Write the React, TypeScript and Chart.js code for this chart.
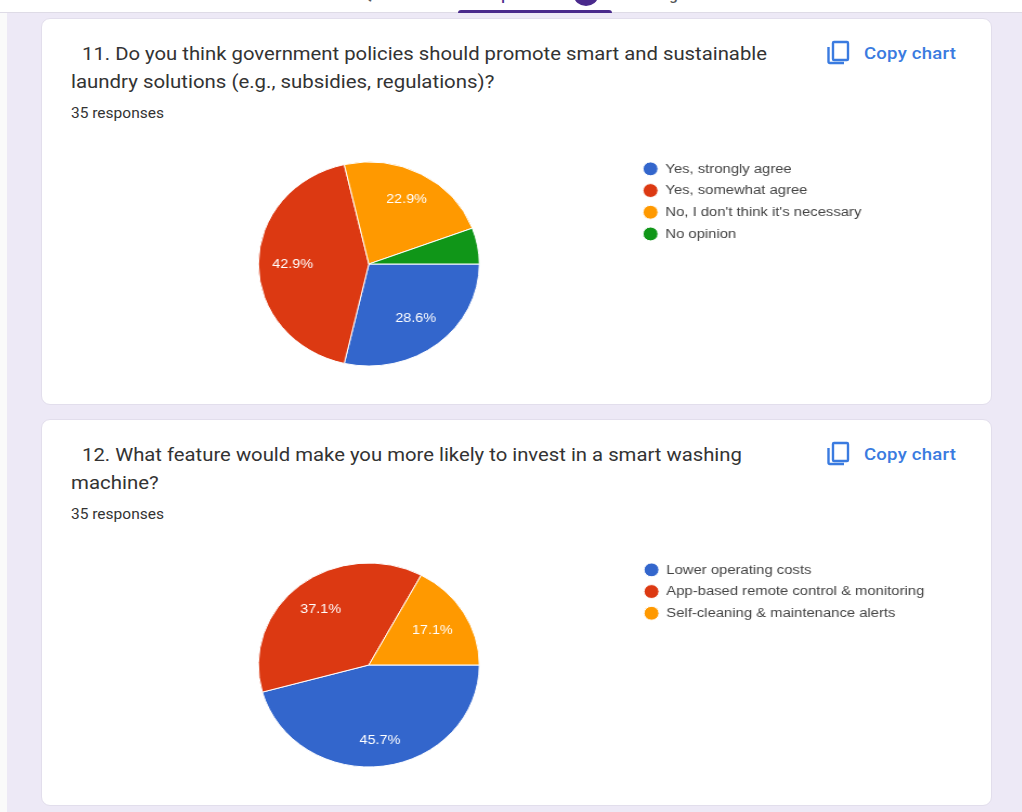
import React, { useEffect, useRef } from "react";
import { Chart, registerables } from "chart.js";

Chart.register(...registerables);

const policyAnswers = ["Yes, strongly agree", "Yes, somewhat agree", "No, I don't think it's necessary", "No opinion"];
const policyCounts = [10, 15, 8, 2];
const featureAnswers = ["Lower operating costs", "App-based remote control & monitoring", "Self-cleaning & maintenance alerts"];
const featureCounts = [16, 13, 6];
const sliceColors = ["#3366cc", "#dc3912", "#ff9900", "#109618"];
// How far out along each slice its percentage sits, as a share of the radius.
const policyLabelReach = [0.68, 0.69, 0.72, 0];
const featureLabelReach = [0.75, 0.7, 0.67];
const FONT = "'Liberation Sans', Arial, sans-serif";
const STRETCH = 1.083;

// Writes each slice's share inside the slice, skipping the very thin ones.
const percentLabels = {
  id: "percentLabels",
  afterDatasetsDraw(chart: any, _args: any, opts: any) {
    const { ctx } = chart;
    const values: number[] = chart.data.datasets[0].data;
    const total = values.reduce((a, b) => a + b, 0);
    chart.getDatasetMeta(0).data.forEach((arc: any, i: number) => {
      const share = (values[i] / total) * 100;
      if (share < 8) return;
      const mid = (arc.startAngle + arc.endAngle) / 2;
      const dist = arc.outerRadius * opts.reach[i];
      ctx.save();
      ctx.fillStyle = "#ffffff";
      ctx.font = `13.3px ${FONT}`;
      ctx.textAlign = "center";
      ctx.textBaseline = "middle";
      ctx.fillText(`${share.toFixed(1)}%`, arc.x + Math.cos(mid) * dist, arc.y + Math.sin(mid) * dist);
      ctx.restore();
    });
  },
};

function Pie({ labels, values, reach, left, top, width }: { labels: string[]; values: number[]; reach: number[]; left: number; top: number; width: number }) {
  const ref = useRef<HTMLCanvasElement>(null);
  useEffect(() => {
    const chart = new Chart(ref.current!, {
      type: "pie",
      data: {
        labels,
        datasets: [{ data: values, backgroundColor: sliceColors, borderColor: "#ffffff", borderWidth: 1, radius: 102 }],
      },
      options: {
        responsive: false,
        animation: false,
        rotation: 90,
        layout: { padding: { left: 15 } },
        plugins: {
          tooltip: { enabled: false },
          percentLabels: { reach },
          legend: {
            position: "right",
            align: "start",
            labels: {
              usePointStyle: true,
              pointStyle: "circle",
              boxWidth: 14,
              boxHeight: 9.8,
              padding: 8,
              color: "#444444",
              font: { family: FONT, size: 13.7 },
            },
          },
        },
      },
      plugins: [percentLabels],
    } as any);
    return () => chart.destroy();
  }, []);
  return (
    <div style={{ position: "absolute", left, top, transformOrigin: "0 0", transform: `scaleX(${STRETCH})` }}>
      <canvas ref={ref} width={width} height={220} />
    </div>
  );
}

function WideText({ left, top, scale, style, children }: { left: number; top: number; scale: number; style: React.CSSProperties; children: React.ReactNode }) {
  return (
    <div style={{ position: "absolute", left, top, whiteSpace: "nowrap", transformOrigin: "0 0", transform: `scaleX(${scale})`, ...style }}>{children}</div>
  );
}

function CopyChart({ top }: { top: number }) {
  return (
    <>
      <svg style={{ position: "absolute", left: 826, top: top + 22 }} width="25" height="26" viewBox="0 0 25 26" fill="none" stroke="#3a7be0" strokeWidth="2.4">
        <rect x="7" y="2" width="15" height="18" rx="1" />
        <path d="M2.5 7 V21.5 a1.5 1.5 0 0 0 1.5 1.5 H18" />
      </svg>
      <WideText left={864} top={top + 26} scale={1.16} style={{ font: "500 16px Roboto, sans-serif", color: "#3a7be0", letterSpacing: 0.2 }}>Copy chart</WideText>
    </>
  );
}

function Card({ top, first, second }: { top: number; first: string; second: string }) {
  const heading: React.CSSProperties = { font: "18.5px Roboto, sans-serif", color: "#333333" };
  return (
    <>
      <div style={{ position: "absolute", left: 41, top, width: 951, height: 387, background: "#fff", borderRadius: 9, border: "1px solid #e2deec", boxSizing: "border-box" }} />
      <WideText left={82} top={top + 25} scale={1.096} style={heading}>{first}</WideText>
      <WideText left={71} top={top + 52.5} scale={1.103} style={heading}>{second}</WideText>
      <WideText left={71} top={top + 87} scale={1.107} style={{ font: "14px Roboto, sans-serif", color: "#333" }}>35 responses</WideText>
      <CopyChart top={top} />
    </>
  );
}

export default function App() {
  const tab: React.CSSProperties = { position: "absolute", top: -14, font: "500 15px Roboto, sans-serif", color: "#555", whiteSpace: "nowrap" };
  return (
    <div style={{ position: "fixed", inset: 0, width: 1022, height: 812, overflow: "hidden", background: "#ede9f6" }}>
      <div style={{ position: "absolute", left: 0, top: 0, width: 7, height: 812, background: "#fafafa" }} />
      <div style={{ position: "absolute", left: 0, top: 0, width: 1022, height: 13, background: "#fff", borderBottom: "1px solid #dedbe6", boxSizing: "border-box" }} />
      <div style={{ ...tab, left: 362 }}>Questions</div>
      <div style={{ ...tab, left: 476, color: "#4a2a8c" }}>Responses</div>
      <div style={{ ...tab, left: 630 }}>Settings</div>
      <div style={{ position: "absolute", left: 458, top: 10, width: 154, height: 3, background: "#4a2a8c", borderRadius: "3px 3px 0 0" }} />
      <div style={{ position: "absolute", left: 574, top: -14, width: 24, height: 20, borderRadius: "50%", background: "#4a2a8c" }} />
      <Card top={18} first="11. Do you think government policies should promote smart and sustainable" second="laundry solutions (e.g., subsidies, regulations)?" />
      <Card top={419} first="12. What feature would make you more likely to invest in a smart washing" second="machine?" />
      <Pie labels={policyAnswers} values={policyCounts} reach={policyLabelReach} left={87} top={154} width={725} />
      <Pie labels={featureAnswers} values={featureCounts} reach={featureLabelReach} left={85.5} top={555} width={784} />
    </div>
  );
}
